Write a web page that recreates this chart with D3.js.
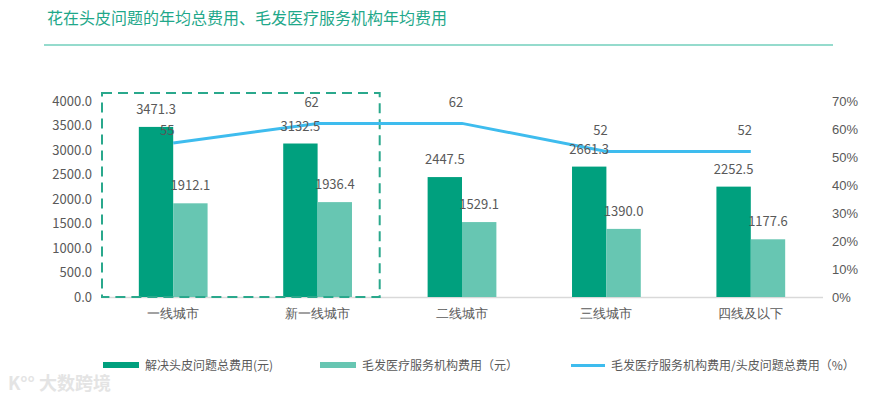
<!DOCTYPE html>
<html><head><meta charset="utf-8">
<script src="https://cdn.jsdelivr.net/npm/d3@7"></script>
<style>
body{margin:0;background:#fff;}
svg{display:block;font-family:"Noto Sans CJK SC","Noto Sans",sans-serif;}
</style></head>
<body><svg id="c" width="881" height="398"></svg>
<script>
const title = "花在头皮问题的年均总费用、毛发医疗服务机构年均费用";
const categories = ["一线城市","新一线城市","二线城市","三线城市","四线及以下"];
const totalCost = [3471.3, 3132.5, 2447.5, 2661.3, 2252.5];
const clinicCost = [1912.1, 1936.4, 1529.1, 1390.0, 1177.6];
const ratio = [55, 62, 62, 52, 52];
const leftTicks = [0,500,1000,1500,2000,2500,3000,3500,4000];
const rightTicks = [0,10,20,30,40,50,60,70];
const seriesNames = ["解决头皮问题总费用(元)","毛发医疗服务机构费用（元）","毛发医疗服务机构费用/头皮问题总费用（%）"];

const C_DARK = "#00a07e", C_LIGHT = "#67c6b2", C_LINE = "#3ebcee", C_TEXT = "#595959", C_TEAL = "#1fa88a";
const svg = d3.select("#c");
const L = 101, R = 823, T = 101, B = 297;

// title
svg.append("text").attr("x",47).attr("y",24).attr("font-size",16).attr("fill",C_TEAL).text(title);
svg.append("line").attr("x1",44).attr("x2",833).attr("y1",45).attr("y2",45).attr("stroke","#72cfbd").attr("stroke-width",1.3);

const x0 = d3.scaleBand().domain(categories).range([L,R]).padding(0);
const x1 = d3.scaleBand().domain(["a","b"]).range([0,x0.bandwidth()]).paddingInner(0).paddingOuter(1.1);
const y = d3.scaleLinear().domain([0,4000]).range([B,T]);
const y2 = d3.scaleLinear().domain([0,70]).range([B,T]);

// axes
const ax = svg.append("g").attr("transform",`translate(${L-3},0)`)
  .call(d3.axisLeft(y).tickValues(leftTicks).tickFormat(d3.format(".1f")).tickSize(0).tickPadding(6));
ax.select(".domain").remove();
ax.selectAll("text").attr("font-size",13).attr("fill",C_TEXT).attr("font-family","'Noto Sans CJK SC',sans-serif");
const ar = svg.append("g").attr("transform",`translate(${R+3},0)`)
  .call(d3.axisRight(y2).tickValues(rightTicks).tickFormat(d=>d+"%").tickSize(0).tickPadding(6));
ar.select(".domain").remove();
ar.selectAll("text").attr("font-size",13).attr("fill",C_TEXT);
const ab = svg.append("g").attr("transform",`translate(0,${B+9})`)
  .call(d3.axisBottom(x0).tickSize(0).tickPadding(3));
ab.select(".domain").remove();
ab.selectAll("text").attr("font-size",13).attr("fill",C_TEXT);

// baseline
svg.append("line").attr("x1",L).attr("x2",R).attr("y1",B+0.5).attr("y2",B+0.5).attr("stroke","#d9d9d9").attr("stroke-width",1.5);

// bars
const g = svg.append("g");
g.selectAll(".d").data(categories).join("rect")
  .attr("x",(c)=>x0(c)+x1("a")).attr("width",x1.bandwidth())
  .attr("y",(c,i)=>y(totalCost[i])).attr("height",(c,i)=>B-y(totalCost[i])).attr("fill",C_DARK);
g.selectAll(".l").data(categories).join("rect").attr("class","l")
  .attr("x",(c)=>x0(c)+x1("b")).attr("width",x1.bandwidth())
  .attr("y",(c,i)=>y(clinicCost[i])).attr("height",(c,i)=>B-y(clinicCost[i])).attr("fill",C_LIGHT);

// dashed box
const step = x0.step();
svg.append("rect").attr("x",x0(categories[0])+1).attr("y",y(4000)-8)
  .attr("width",x0(categories[2])-0.07*step-x0(categories[0])-1).attr("height",B-(y(4000)-8))
  .attr("fill","none").attr("stroke","#2aa88c").attr("stroke-width",2).attr("stroke-dasharray","10,6");

// line
const cx = c=>x0(c)+x0.bandwidth()/2;
svg.append("path").datum(categories)
  .attr("d",d3.line().x(c=>cx(c)).y((c,i)=>y2(ratio[i])))
  .attr("fill","none").attr("stroke",C_LINE).attr("stroke-width",3);

// labels
const lab = svg.append("g").attr("font-size",13).attr("fill",C_TEXT).attr("text-anchor","middle");
categories.forEach((c,i)=>{
  lab.append("text").attr("x",x0(c)+x1("a")+x1.bandwidth()/2).attr("y",y(totalCost[i])-13).text(totalCost[i].toFixed(1));
  lab.append("text").attr("x",x0(c)+x1("b")+x1.bandwidth()/2).attr("y",y(clinicCost[i])-13).text(clinicCost[i].toFixed(1));
  lab.append("text").attr("x",cx(c)-6).attr("y",y2(ratio[i])-(i===0?8:16)).text(ratio[i]);
});

// legend
const lg = svg.append("g").attr("font-size",12).attr("fill",C_TEXT);
lg.append("rect").attr("x",103).attr("y",362).attr("width",36).attr("height",6).attr("fill",C_DARK);
lg.append("text").attr("x",145).attr("y",370).text(seriesNames[0]);
lg.append("rect").attr("x",320).attr("y",362).attr("width",36).attr("height",6).attr("fill",C_LIGHT);
lg.append("text").attr("x",362).attr("y",370).text(seriesNames[1]);
lg.append("line").attr("x1",571).attr("x2",605).attr("y1",365.5).attr("y2",365.5).attr("stroke",C_LINE).attr("stroke-width",3);
lg.append("text").attr("x",611).attr("y",370).text(seriesNames[2]);

// watermark
svg.append("text").attr("x",8).attr("y",390).attr("font-size",18).attr("fill","#e4e4e4").attr("font-weight","bold").text("K°° 大数跨境");
</script></body></html>
